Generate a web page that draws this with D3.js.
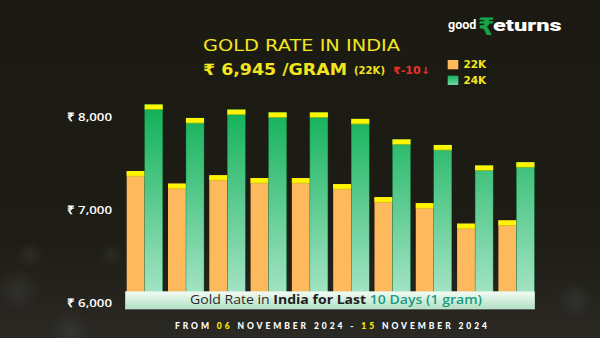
<!DOCTYPE html>
<html>
<head>
<meta charset="utf-8">
<script src="https://cdn.jsdelivr.net/npm/d3@7"></script>
<style>
html,body{margin:0;padding:0;background:#1c1a12;}
svg{display:block;}
</style>
</head>
<body>
<svg id="chart" width="600" height="338"></svg>
<script>
// ---- data ----
const dates = ["06 Nov","07 Nov","08 Nov","09 Nov","10 Nov","11 Nov","12 Nov","13 Nov","14 Nov","15 Nov"];
const gold22 = [7415, 7280, 7370, 7340, 7340, 7275, 7135, 7070, 6850, 6885];
const gold24 = [8130, 7985, 8075, 8045, 8045, 7975, 7755, 7695, 7475, 7510];
const yTicks = [6000, 7000, 8000];
const seriesNames = ["22K", "24K"];

const svg = d3.select("#chart");
const W = 600, H = 338;

// ---- defs ----
const defs = svg.append("defs");
const bg = defs.append("linearGradient").attr("id","bg").attr("x1",0).attr("y1",0).attr("x2",0).attr("y2",1);
bg.append("stop").attr("offset","0").attr("stop-color","#1b1a12");
bg.append("stop").attr("offset","0.7").attr("stop-color","#1d1c15");
bg.append("stop").attr("offset","1").attr("stop-color","#2a2924");
const g24 = defs.append("linearGradient").attr("id","g24").attr("x1",0).attr("x2",0)
  .attr("gradientUnits","userSpaceOnUse").attr("y1",110).attr("y2",300);
g24.append("stop").attr("offset","0").attr("stop-color","#12b159");
g24.append("stop").attr("offset","1").attr("stop-color","#a8e5c8");
const ban = defs.append("linearGradient").attr("id","ban").attr("x1",0).attr("y1",0).attr("x2",0).attr("y2",1);
ban.append("stop").attr("offset","0").attr("stop-color","#f3fbf5");
ban.append("stop").attr("offset","1").attr("stop-color","#b0e0c2");
const leg24 = defs.append("linearGradient").attr("id","leg24").attr("x1",0).attr("y1",0).attr("x2",0).attr("y2",1);
leg24.append("stop").attr("offset","0").attr("stop-color","#16b35d");
leg24.append("stop").attr("offset","1").attr("stop-color","#6fd4a0");
const glow = defs.append("radialGradient").attr("id","glow");
glow.append("stop").attr("offset","0").attr("stop-color","#ffffff").attr("stop-opacity",0.06);
glow.append("stop").attr("offset","1").attr("stop-color","#ffffff").attr("stop-opacity",0);

svg.append("rect").attr("width",W).attr("height",H).attr("fill","url(#bg)");
// faint bokeh
[[18,290,22],[30,255,14],[112,255,12],[70,330,20],[575,300,18]].forEach(c=>{
  svg.append("circle").attr("cx",c[0]).attr("cy",c[1]).attr("r",c[2]).attr("fill","url(#glow)");
});

// ---- scales ----
const x = d3.scaleBand().domain(dates).range([126.7, 534.4]).paddingInner(0.128).paddingOuter(0);
const xs = d3.scaleBand().domain(seriesNames).range([0, x.bandwidth()]);
const y = d3.scaleLinear().domain([6000, 8000]).range([302.8, 116.6]);

// ---- y axis ----
const yAxis = svg.append("g").attr("transform","translate(112,0)")
  .call(d3.axisLeft(y).tickValues(yTicks).tickSize(0).tickPadding(0)
    .tickFormat(d => "₹ " + d3.format(",")(d)));
yAxis.select(".domain").remove();
yAxis.selectAll("text").attr("fill","#ffffff").attr("font-family","'Open Sans', sans-serif")
  .attr("font-weight","600").attr("font-size","11.5px").attr("dy","0.35em")
  .attr("textLength",45.5).attr("lengthAdjust","spacingAndGlyphs");

// ---- bars ----
const groups = svg.append("g").selectAll("g").data(dates).join("g")
  .attr("transform", d => `translate(${x(d)},0)`);
const capH = 5.3;
groups.each(function(d, i){
  const g = d3.select(this);
  const vals = [gold22[i], gold24[i]];
  vals.forEach((v, k) => {
    const bx = xs(seriesNames[k]), bw = xs.bandwidth();
    g.append("rect").attr("x", bx).attr("y", y(v)).attr("width", bw)
      .attr("height", y(6000) - y(v))
      .attr("fill", k === 0 ? "#fdb95c" : "url(#g24)")
      .attr("stroke", k === 0 ? "none" : "#0f7a3e").attr("stroke-width", k === 0 ? 0 : 0.4);
    g.append("rect").attr("x", bx).attr("y", y(v)).attr("width", bw).attr("height", capH)
      .attr("fill", "#fff500");
    g.append("rect").attr("x", bx).attr("y", y(v) + capH - 0.6).attr("width", bw).attr("height", 0.8)
      .attr("fill", k === 0 ? "#c9a030" : "#4e9a2a").attr("opacity",0.7);
  });
});

// ---- banner ----
svg.append("rect").attr("x",125.5).attr("y",291.7).attr("width",409).attr("height",17.3)
  .attr("fill","url(#ban)").attr("stroke","#d9f2e2").attr("stroke-width",0.6);
const bt = svg.append("text").attr("x",190).attr("y",304.2).attr("text-anchor","start")
  .attr("font-family","'Open Sans', sans-serif").attr("font-size","12px")
  .attr("textLength",292).attr("lengthAdjust","spacingAndGlyphs");
bt.append("tspan").attr("fill","#2b2b2b").attr("font-weight","400").text("Gold Rate in ");
bt.append("tspan").attr("fill","#1e1e1e").attr("font-weight","700").text("India for Last ");
bt.append("tspan").attr("fill","#1a9a80").attr("font-weight","600").text(" 10 Days (1 gram)");

// ---- date line ----
const dt = svg.append("text").attr("x",175).attr("y",329).attr("text-anchor","start")
  .attr("font-family","Lato, sans-serif").attr("font-weight","900").attr("font-size","8.5px")
  .attr("textLength",312).attr("lengthAdjust","spacing").attr("fill","#ffffff");
dt.append("tspan").text("FROM ");
dt.append("tspan").attr("fill","#ffee00").text("06");
dt.append("tspan").text(" NOVEMBER 2024 - ");
dt.append("tspan").attr("fill","#ffee00").text("15");
dt.append("tspan").text(" NOVEMBER 2024");

// ---- title ----
svg.append("text").attr("x",203).attr("y",51.3).attr("fill","#f3e51e")
  .attr("font-family","'DejaVu Sans', sans-serif").attr("font-size","15.2px")
  .attr("textLength",197).attr("lengthAdjust","spacingAndGlyphs")
  .text("GOLD RATE IN INDIA");
svg.append("text").attr("x",203).attr("y",74.7).attr("fill","#f3e51e")
  .attr("font-family","'DejaVu Sans', sans-serif").attr("font-weight","700").attr("font-size","15.5px")
  .attr("textLength",144).attr("lengthAdjust","spacingAndGlyphs")
  .text("₹ 6,945 /GRAM");
svg.append("text").attr("x",354).attr("y",73.5).attr("fill","#f3e51e")
  .attr("font-family","'DejaVu Sans', sans-serif").attr("font-weight","700").attr("font-size","10px")
  .attr("textLength",31).attr("lengthAdjust","spacingAndGlyphs")
  .text("(22K)");
svg.append("text").attr("x",393).attr("y",73.5).attr("fill","#e8332a")
  .attr("font-family","'DejaVu Sans', sans-serif").attr("font-weight","700").attr("font-size","10px")
  .attr("textLength",37).attr("lengthAdjust","spacingAndGlyphs")
  .text("₹-10↓");

// ---- legend ----
const leg = svg.append("g");
seriesNames.forEach((s, k) => {
  leg.append("rect").attr("x",447.7).attr("y",60 + k*15.7).attr("width",10.6).attr("height",9.3)
    .attr("fill", k === 0 ? "#fdb95c" : "url(#leg24)");
  leg.append("text").attr("x",463.5).attr("y",68.3 + k*15.4).attr("fill","#f3e51e")
    .attr("font-family","'DejaVu Sans', sans-serif").attr("font-weight","700").attr("font-size","10.5px")
    .text(s);
});

// ---- logo ----
svg.append("text").attr("x",448).attr("y",28.5).attr("fill","#ffffff")
  .attr("font-family","Roboto, sans-serif").attr("font-weight","700").attr("font-size","12.5px")
  .text("good");
svg.append("text").attr("x",478).attr("y",35).attr("fill","#16a34a")
  .attr("font-family","'DejaVu Sans', sans-serif").attr("font-weight","700").attr("font-size","24px")
  .text("₹");
svg.append("text").attr("x",493).attr("y",31).attr("fill","#ffffff")
  .attr("font-family","Roboto, sans-serif").attr("font-weight","900").attr("font-size","16px")
  .attr("textLength",68.5).attr("lengthAdjust","spacingAndGlyphs")
  .text("eturns");
</script>
</body>
</html>
